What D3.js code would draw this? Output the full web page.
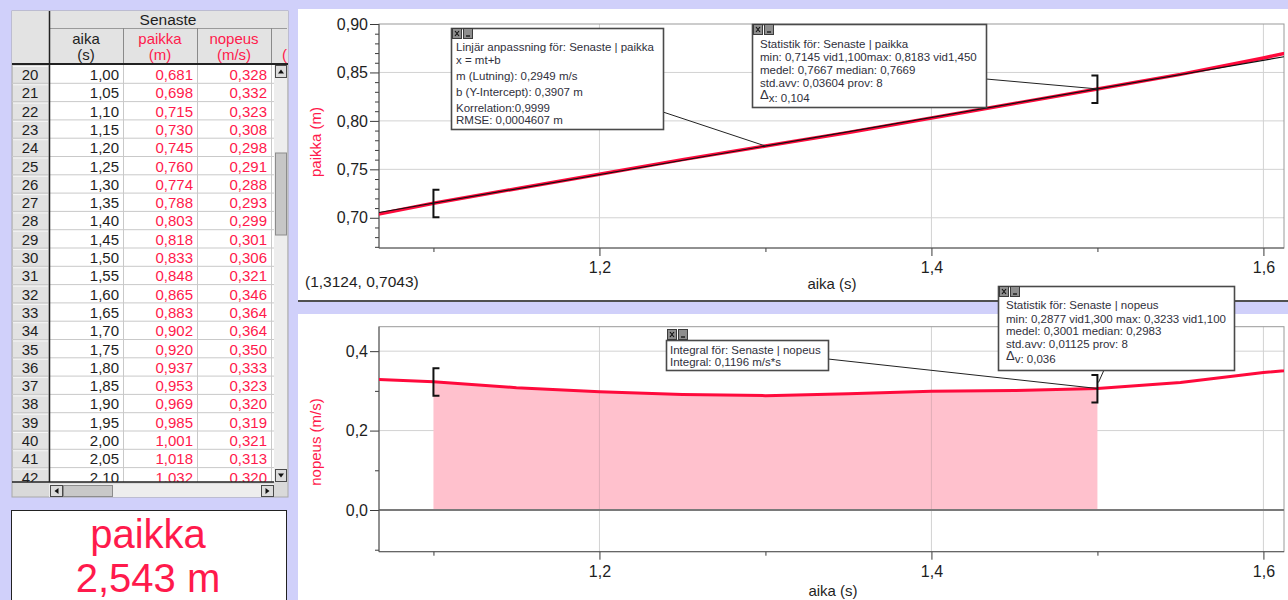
<!DOCTYPE html>
<html>
<head>
<meta charset="utf-8">
<script src="https://cdn.jsdelivr.net/npm/d3@7"></script>
<style>
  html, body { margin: 0; padding: 0; background: #d0d0fa; overflow: hidden; }
  svg { display: block; font-family: "Liberation Sans", Arial, sans-serif; }
</style>
</head>
<body>
<svg id="screen" width="1288" height="600"></svg>
<script>
// ---- data ----
const rowNumbers = [20, 21, 22, 23, 24, 25, 26, 27, 28, 29, 30, 31, 32, 33, 34, 35, 36, 37, 38, 39, 40, 41, 42];
const aika   = [1.00, 1.05, 1.10, 1.15, 1.20, 1.25, 1.30, 1.35, 1.40, 1.45, 1.50, 1.55, 1.60, 1.65, 1.70, 1.75, 1.80, 1.85, 1.90, 1.95, 2.00, 2.05, 2.10];
const paikka = [0.681, 0.698, 0.715, 0.730, 0.745, 0.760, 0.774, 0.788, 0.803, 0.818, 0.833, 0.848, 0.865, 0.883, 0.902, 0.920, 0.937, 0.953, 0.969, 0.985, 1.001, 1.018, 1.032];
const nopeus = [0.328, 0.332, 0.323, 0.308, 0.298, 0.291, 0.288, 0.293, 0.299, 0.301, 0.306, 0.321, 0.346, 0.364, 0.364, 0.350, 0.333, 0.323, 0.320, 0.319, 0.321, 0.313, 0.320];

const timeTicks = [1.2, 1.4, 1.6];
const timeMinorTicks = [1.1, 1.3, 1.5];
const paikkaTicks = [0.70, 0.75, 0.80, 0.85, 0.90];
const nopeusTicks = [0.0, 0.2, 0.4];
const nopeusMinorTicks = [-0.1, 0.1, 0.3];

// linear fit x = m t + b and the selected time range
const fitSlope = 0.2949;
const fitIntercept = 0.3907;
const selection = [1.1, 1.5];

const columnHeaders = [["aika", "(s)"], ["paikka", "(m)"], ["nopeus", "(m/s)"]];
const fitText = ["Linjär anpassning för: Senaste | paikka", "x = mt+b", "m (Lutning): 0,2949 m/s",
                 "b (Y-Intercept): 0,3907 m", "Korrelation:0,9999", "RMSE: 0,0004607 m"];
const paikkaStatsText = ["Statistik för: Senaste | paikka", "min: 0,7145 vid1,100max: 0,8183 vid1,450",
                         "medel: 0,7667 median: 0,7669", "std.avv: 0,03604 prov: 8"];
const paikkaDelta = ["x", ": 0,104"];
const nopeusStatsText = ["Statistik för: Senaste | nopeus", "min: 0,2877 vid1,300 max: 0,3233 vid1,100",
                         "medel: 0,3001 median: 0,2983", "std.avv: 0,01125 prov: 8"];
const nopeusDelta = ["v", ": 0,036"];
const integralText = ["Integral för: Senaste | nopeus", "Integral: 0,1196 m/s*s"];
const cursorReadout = "(1,3124, 0,7043)";
const meterName = "paikka";
const meterValue = "2,543 m";

// ---- styles ----
const RED = "#ff1a4c", LINE_RED = "#ff0a3c", FILL = "#ffc1cd", GRID = "#d2d2d2", FRAME = "#9a9a9a";
const INK = "#1e1e1e", NOTE_INK = "#30303c";

const loc = d3.formatLocale({ decimal: ",", thousands: "\u00a0", grouping: [3], currency: ["", ""] });
const f1 = loc.format(".1f"), f2 = loc.format(".2f"), f3 = loc.format(".3f");

const svg = d3.select("#screen");

// ================= data table =================
const tbl = { left: 12, top: 11, right: 288, bottom: 497, rowTop: 65, rowH: 18.3, dataBottom: 482 };
const colEdges = [12, 49, 123, 197, 271, 274];
const table = svg.append("g");

table.append("rect").attr("x", tbl.left).attr("y", tbl.top)
  .attr("width", tbl.right - tbl.left).attr("height", tbl.bottom - tbl.top)
  .attr("fill", "#d9d9d9").attr("stroke", "#a8a8a8");

// header
table.append("rect").attr("x", 12).attr("y", 11).attr("width", 276).attr("height", 53).attr("fill", "#e3e3e3");
table.append("text").attr("x", 168).attr("y", 25).attr("text-anchor", "middle")
  .attr("font-size", 15.5).attr("fill", INK).text("Senaste");
table.append("line").attr("x1", 49).attr("x2", 287).attr("y1", 28.5).attr("y2", 28.5).attr("stroke", "#9a9a9a");
[123, 197, 271].forEach(x => table.append("line").attr("x1", x + 0.5).attr("x2", x + 0.5)
  .attr("y1", 28).attr("y2", 64).attr("stroke", "#8a8a8a"));
columnHeaders.forEach((h, i) => {
  const cx = (colEdges[i + 1] + colEdges[i + 2]) / 2;
  const col = i === 0 ? INK : RED;
  table.append("text").attr("x", cx).attr("y", 44).attr("text-anchor", "middle")
    .attr("font-size", 15).attr("fill", col).text(h[0]);
  table.append("text").attr("x", cx).attr("y", 60).attr("text-anchor", "middle")
    .attr("font-size", 15).attr("fill", col).text(h[1]);
});
table.append("text").attr("x", 282).attr("y", 60).attr("font-size", 15).attr("fill", RED).text("(");

// rows
const rowsClip = svg.append("clipPath").attr("id", "rowsClip");
rowsClip.append("rect").attr("x", 12).attr("y", tbl.rowTop).attr("width", 262).attr("height", tbl.dataBottom - tbl.rowTop);
const rows = table.append("g").attr("clip-path", "url(#rowsClip)");
const yRow = d3.scaleLinear().domain([0, 1]).range([tbl.rowTop, tbl.rowTop + tbl.rowH]);

rows.append("rect").attr("x", 49).attr("y", tbl.rowTop).attr("width", 225).attr("height", 420).attr("fill", "#ffffff");
rowNumbers.forEach((n, i) => {
  const y0 = yRow(i);
  rows.append("rect").attr("x", 13).attr("y", y0 + 1).attr("width", 35).attr("height", tbl.rowH - 1.5)
    .attr("fill", "#e2e2e2");
  rows.append("line").attr("x1", 13).attr("x2", 48).attr("y1", y0 + 1.5).attr("y2", y0 + 1.5).attr("stroke", "#f6f6f6");
  rows.append("line").attr("x1", 12).attr("x2", 274).attr("y1", y0 + tbl.rowH).attr("y2", y0 + tbl.rowH)
    .attr("stroke", "#c9c9c9");
  rows.append("text").attr("x", 30).attr("y", y0 + 15).attr("text-anchor", "middle")
    .attr("font-size", 15).attr("fill", INK).text(n);
  rows.append("text").attr("x", 119).attr("y", y0 + 15).attr("text-anchor", "end")
    .attr("font-size", 15).attr("fill", INK).text(f2(aika[i]));
  rows.append("text").attr("x", 193).attr("y", y0 + 15).attr("text-anchor", "end")
    .attr("font-size", 15).attr("fill", RED).text(f3(paikka[i]));
  rows.append("text").attr("x", 267).attr("y", y0 + 15).attr("text-anchor", "end")
    .attr("font-size", 15).attr("fill", RED).text(f3(nopeus[i]));
});
[123, 197, 271].forEach(x => rows.append("line").attr("x1", x + 0.5).attr("x2", x + 0.5)
  .attr("y1", tbl.rowTop).attr("y2", tbl.dataBottom).attr("stroke", "#c9c9c9"));

// heavy rules
table.append("line").attr("x1", 12).attr("x2", 288).attr("y1", 64).attr("y2", 64).attr("stroke", "#222").attr("stroke-width", 2);
table.append("line").attr("x1", 49.5).attr("x2", 49.5).attr("y1", 11).attr("y2", 482).attr("stroke", "#222").attr("stroke-width", 1.5);
table.append("line").attr("x1", 12).attr("x2", 274).attr("y1", 482).attr("y2", 482).attr("stroke", "#222").attr("stroke-width", 1.5);

// scroll bars
function arrowButton(g, x, y, w, h, dir) {
  g.append("rect").attr("x", x).attr("y", y).attr("width", w).attr("height", h)
    .attr("fill", "#dcdcdc").attr("stroke", "#4a4a4a");
  const cx = x + w / 2, cy = y + h / 2;
  const pts = {
    up: [[cx - 3, cy + 2], [cx + 3, cy + 2], [cx, cy - 2]],
    down: [[cx - 3, cy - 2], [cx + 3, cy - 2], [cx, cy + 2]],
    left: [[cx + 2, cy - 3], [cx + 2, cy + 3], [cx - 2, cy]],
    right: [[cx - 2, cy - 3], [cx - 2, cy + 3], [cx + 2, cy]]
  }[dir];
  g.append("polygon").attr("points", pts.map(p => p.join(",")).join(" ")).attr("fill", "#111");
}
table.append("rect").attr("x", 274).attr("y", 65).attr("width", 13).attr("height", 417).attr("fill", "#ededed");
table.append("rect").attr("x", 275.5).attr("y", 153).attr("width", 11).attr("height", 82)
  .attr("fill", "#c6c6c6").attr("stroke", "#8c8c8c");
arrowButton(table, 275.5, 65.5, 11, 12, "up");
arrowButton(table, 275.5, 469.5, 11, 12, "down");
table.append("rect").attr("x", 49).attr("y", 484).attr("width", 225).attr("height", 13).attr("fill", "#ededed");
table.append("rect").attr("x", 63.5).attr("y", 485.5).attr("width", 49).attr("height", 11)
  .attr("fill", "#c8c8c8").attr("stroke", "#8c8c8c");
arrowButton(table, 50.5, 485.5, 12, 11, "left");
arrowButton(table, 261.5, 485.5, 12, 11, "right");

// meter display
svg.append("rect").attr("x", 11.5).attr("y", 510.5).attr("width", 275).attr("height", 100)
  .attr("fill", "#ffffff").attr("stroke", "#222");
svg.append("text").attr("x", 148).attr("y", 548).attr("text-anchor", "middle")
  .attr("font-size", 40).attr("fill", RED).text(meterName);
svg.append("text").attr("x", 148).attr("y", 592).attr("text-anchor", "middle")
  .attr("font-size", 40).attr("fill", RED).text(meterValue);

// ================= graph panels =================
svg.append("rect").attr("x", 298).attr("y", 9).attr("width", 990).attr("height", 291).attr("fill", "#ffffff");
svg.append("line").attr("x1", 298).attr("x2", 1288).attr("y1", 301).attr("y2", 301).attr("stroke", "#505050").attr("stroke-width", 2);
svg.append("rect").attr("x", 298).attr("y", 314).attr("width", 990).attr("height", 290).attr("fill", "#ffffff");

const xTop = d3.scaleLinear().domain([1.0672, 1.6124]).range([379, 1284]);
const yTop = d3.scaleLinear().domain([0.6688, 0.90]).range([248, 24]);
const xBot = d3.scaleLinear().domain([1.0672, 1.6124]).range([379, 1284]);
const yBot = d3.scaleLinear().domain([-0.105, 0.4616]).range([551.7, 326.7]);

function frameAndGrid(g, x, y, yGrid, id) {
  const [x0, x1] = x.range(), [y0, y1] = y.range();
  g.append("clipPath").attr("id", id).append("rect")
    .attr("x", x0).attr("y", y1).attr("width", x1 - x0).attr("height", y0 - y1);
  g.selectAll(null).data(timeTicks).join("line")
    .attr("x1", d => x(d)).attr("x2", d => x(d)).attr("y1", y1).attr("y2", y0)
    .attr("stroke", GRID);
  g.selectAll(null).data(yGrid).join("line")
    .attr("x1", x0).attr("x2", x1).attr("y1", d => y(d)).attr("y2", d => y(d))
    .attr("stroke", GRID);
  g.append("rect").attr("x", x0).attr("y", y1).attr("width", x1 - x0).attr("height", y0 - y1)
    .attr("fill", "none").attr("stroke", FRAME);
}

function axes(g, x, y, yMajor, yMinor, yFmt) {
  const [x0] = x.range(), [y0] = y.range();
  const left = g.append("g").attr("transform", `translate(${x0},0)`)
    .call(d3.axisLeft(y).tickValues(yMajor).tickSize(9).tickPadding(2).tickFormat(yFmt));
  const leftMinor = g.append("g").attr("transform", `translate(${x0},0)`)
    .call(d3.axisLeft(y).tickValues(yMinor).tickSize(4).tickFormat(""));
  const bottom = g.append("g").attr("transform", `translate(0,${y0})`)
    .call(d3.axisBottom(x).tickValues(timeTicks).tickSize(8).tickPadding(6).tickFormat(f1));
  const bottomMinor = g.append("g").attr("transform", `translate(0,${y0})`)
    .call(d3.axisBottom(x).tickValues(timeMinorTicks).tickSize(4).tickFormat(""));
  [left, leftMinor, bottom, bottomMinor].forEach(a => {
    a.select(".domain").remove();
    a.selectAll(".tick line").attr("stroke", "#3a3a3a");
    a.selectAll(".tick text").attr("fill", INK).attr("font-size", 16)
      .attr("font-family", '"Liberation Sans", Arial, sans-serif');
  });
  g.append("line").attr("x1", x0).attr("x2", x0).attr("y1", y.range()[1]).attr("y2", y0).attr("stroke", "#555");
  g.append("line").attr("x1", x0).attr("x2", x.range()[1]).attr("y1", y0).attr("y2", y0).attr("stroke", "#555");
}

function bracket(g, xp, yp, side) {
  const d = side === "left" ? 6 : -6;
  g.append("path")
    .attr("d", `M${xp + d},${yp - 13.5} H${xp} V${yp + 14} H${xp + d}`)
    .attr("fill", "none").attr("stroke", "#111").attr("stroke-width", 2);
}

function noteBox(g, box, lines, delta) {
  const n = g.append("g");
  n.append("rect").attr("x", box.x + 0.5).attr("y", box.y + 0.5).attr("width", box.w).attr("height", box.h)
    .attr("fill", "#ffffff").attr("stroke", "#4a4a4a").attr("stroke-width", 1.6);
  lines.forEach((t, i) => n.append("text").attr("x", box.tx).attr("y", box.base[i])
    .attr("font-size", 11.5).attr("fill", NOTE_INK).text(t));
  if (delta) {
    const t = n.append("text").attr("x", box.tx).attr("y", box.base[lines.length])
      .attr("font-size", 11.5).attr("fill", NOTE_INK);
    t.append("tspan").attr("font-size", 13).attr("dy", -3).text("Δ");
    t.append("tspan").attr("dy", 3).text(delta[0]);
    t.append("tspan").text(delta[1]);
  }
  // close / minimise buttons
  const iy = box.iconY !== undefined ? box.iconY : box.y;
  [0, 11].forEach((dx, k) => {
    n.append("rect").attr("x", box.x + 1.5 + dx).attr("y", iy + 0.5).attr("width", 9).attr("height", 10)
      .attr("fill", "#8e8e8e").attr("stroke", "#3c3c3c");
    if (k === 0) {
      n.append("path").attr("d", `M${box.x + 4 + dx},${iy + 3} l4,5 M${box.x + 8 + dx},${iy + 3} l-4,5`)
        .attr("stroke", "#111").attr("stroke-width", 1.1);
    } else {
      n.append("line").attr("x1", box.x + 4 + dx).attr("x2", box.x + 8 + dx)
        .attr("y1", iy + 8).attr("y2", iy + 8).attr("stroke", "#111").attr("stroke-width", 1.3);
    }
  });
  return n;
}

// ---------- upper graph: paikka ----------
const topG = svg.append("g");
frameAndGrid(topG, xTop, yTop, [0.70, 0.75, 0.80, 0.85], "clipTop");
const topMinor = d3.range(67, 90).map(v => v / 100).filter(v => Math.round(v * 100) % 5 !== 0);
axes(topG, xTop, yTop, paikkaTicks, topMinor, f2);

const paikkaPts = aika.map((t, i) => [t, paikka[i]]);
topG.append("path").attr("clip-path", "url(#clipTop)")
  .attr("d", d3.line().x(d => xTop(d[0])).y(d => yTop(d[1]))(paikkaPts))
  .attr("fill", "none").attr("stroke", LINE_RED).attr("stroke-width", 3.5);
const fitEnds = xTop.domain().map(t => [t, fitSlope * t + fitIntercept]);
topG.append("path").attr("clip-path", "url(#clipTop)")
  .attr("d", d3.line().x(d => xTop(d[0])).y(d => yTop(d[1]))(fitEnds))
  .attr("fill", "none").attr("stroke", "#111").attr("stroke-width", 1.2);

const iSel0 = aika.findIndex(t => Math.abs(t - selection[0]) < 1e-9);
const iSel1 = aika.findIndex(t => Math.abs(t - selection[1]) < 1e-9);
bracket(topG, xTop(selection[0]), yTop(paikka[iSel0]), "left");
bracket(topG, xTop(selection[1]), yTop(paikka[iSel1]), "right");

topG.append("text").attr("transform", "translate(321,142) rotate(-90)").attr("text-anchor", "middle")
  .attr("font-size", 15).attr("fill", RED).text("paikka (m)");
topG.append("text").attr("x", 832).attr("y", 289).attr("text-anchor", "middle")
  .attr("font-size", 15).attr("fill", INK).text("aika (s)");
topG.append("text").attr("x", 305).attr("y", 287).attr("font-size", 15.5).attr("fill", INK).text(cursorReadout);

// connector lines to the notes
const tMid = (selection[0] + selection[1]) / 2;
topG.append("line").attr("x1", 663).attr("y1", 112)
  .attr("x2", xTop(tMid)).attr("y2", yTop(fitSlope * tMid + fitIntercept)).attr("stroke", "#222");
topG.append("line").attr("x1", 986).attr("y1", 79)
  .attr("x2", xTop(selection[1])).attr("y2", yTop(paikka[iSel1])).attr("stroke", "#222");

noteBox(topG, { x: 451, y: 28, w: 212, h: 101, tx: 456, base: [51, 63.5, 79.5, 96, 112, 124] }, fitText);
noteBox(topG, { x: 752, y: 24, w: 234, h: 83, tx: 760, base: [48, 61, 74, 86.5, 101.5] }, paikkaStatsText, paikkaDelta);

// ---------- lower graph: nopeus ----------
const botG = svg.append("g");
frameAndGrid(botG, xBot, yBot, [0.2, 0.4], "clipBot");

const nopeusPts = aika.map((t, i) => [t, nopeus[i]]);
const selPts = nopeusPts.filter(d => d[0] >= selection[0] - 1e-9 && d[0] <= selection[1] + 1e-9);
botG.append("path").attr("clip-path", "url(#clipBot)")
  .attr("d", d3.area().x(d => xBot(d[0])).y0(yBot(0)).y1(d => yBot(d[1]))(selPts))
  .attr("fill", FILL);
// grid lines stay faintly visible through the shaded area
botG.selectAll(null).data(timeTicks.filter(t => t > selection[0] && t < selection[1])).join("line")
  .attr("x1", d => xBot(d)).attr("x2", d => xBot(d)).attr("y1", yBot(0.0)).attr("y2", yBot(0.3))
  .attr("stroke", "#c49aa4").attr("stroke-opacity", 0.5);
botG.append("line").attr("x1", 379).attr("x2", 1284).attr("y1", yBot(0)).attr("y2", yBot(0))
  .attr("stroke", "#7a7a7a").attr("stroke-width", 2);
axes(botG, xBot, yBot, nopeusTicks, nopeusMinorTicks, f1);
botG.append("path").attr("clip-path", "url(#clipBot)")
  .attr("d", d3.line().x(d => xBot(d[0])).y(d => yBot(d[1]))(nopeusPts))
  .attr("fill", "none").attr("stroke", LINE_RED).attr("stroke-width", 3);
bracket(botG, xBot(selection[0]), yBot(nopeus[iSel0]), "left");
bracket(botG, xBot(selection[1]), yBot(nopeus[iSel1]), "right");

botG.append("text").attr("transform", "translate(321,442) rotate(-90)").attr("text-anchor", "middle")
  .attr("font-size", 15).attr("fill", RED).text("nopeus (m/s)");
botG.append("text").attr("x", 833).attr("y", 596).attr("text-anchor", "middle")
  .attr("font-size", 15).attr("fill", INK).text("aika (s)");

botG.append("line").attr("x1", 828).attr("y1", 359)
  .attr("x2", xBot(selection[1])).attr("y2", yBot(nopeus[iSel1])).attr("stroke", "#222");
botG.append("line").attr("x1", 1104).attr("y1", 370)
  .attr("x2", xBot(selection[1]) + 1).attr("y2", yBot(nopeus[iSel1]) - 6).attr("stroke", "#222");

noteBox(botG, { x: 666, y: 340, w: 162, h: 30, tx: 670, base: [353.5, 365.5], iconY: 329 }, integralText);
noteBox(svg, { x: 998, y: 286, w: 236, h: 84, tx: 1006, base: [309, 322.5, 335, 347.5, 363] }, nopeusStatsText, nopeusDelta);
</script>
</body>
</html>
